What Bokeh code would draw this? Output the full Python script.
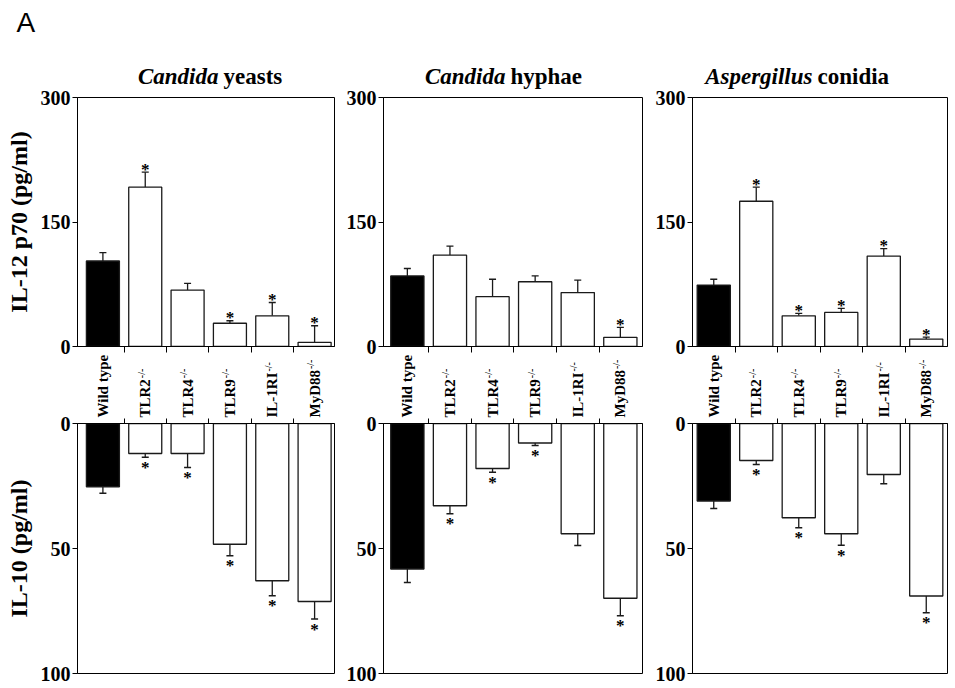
import math
from bokeh.plotting import figure
from bokeh.layouts import row, column
from bokeh.models import (Range1d, FixedTicker, ColumnDataSource, Whisker, TeeHead,
                          CustomLabelingPolicy)
from bokeh.core.properties import value
from bokeh.embed import file_html
from bokeh.resources import INLINE

# ---------------- data ----------------
categories = ["Wild type", "TLR2", "TLR4", "TLR9", "IL-1RI", "MyD88"]
knockout_marks = ["", "-/-", "-/-", "-/-", "-/-", "-/-"]

titles_italic = ["Candida", "Candida", "Aspergillus"]
titles_plain = ["yeasts", "hyphae", "conidia"]

il12_ticks = [0, 150, 300]
il10_ticks = [0, 50, 100]

il12_yeasts = [103, 192, 68, 28, 37, 5]
il12_yeasts_err = [10, 18, 8, 3, 16, 20]
il12_yeasts_sig = [0, 1, 0, 1, 1, 1]
il12_hyphae = [85, 110, 60, 78, 65, 11]
il12_hyphae_err = [9, 11, 21, 7, 15, 12]
il12_hyphae_sig = [0, 0, 0, 0, 0, 1]
il12_conidia = [74, 175, 37, 41, 109, 9]
il12_conidia_err = [7, 17, 3, 5, 9, 2.4]
il12_conidia_sig = [0, 1, 1, 1, 1, 1]

il10_yeasts = [25.3, 12, 12, 48.3, 62.9, 71.2]
il10_yeasts_err = [2.6, 1.5, 5.6, 4.6, 6, 7]
il10_yeasts_sig = [0, 1, 1, 1, 1, 1]
il10_hyphae = [58.2, 32.9, 18, 7.8, 44.1, 69.9]
il10_hyphae_err = [5.4, 3.2, 1.5, 1, 4.7, 7]
il10_hyphae_sig = [0, 1, 1, 1, 0, 1]
il10_conidia = [31, 14.8, 37.7, 44.1, 20.4, 69]
il10_conidia_err = [3, 1.6, 4, 4.6, 3.7, 6.7]
il10_conidia_sig = [0, 1, 1, 1, 0, 1]

top_series = [(il12_yeasts, il12_yeasts_err, il12_yeasts_sig),
              (il12_hyphae, il12_hyphae_err, il12_hyphae_sig),
              (il12_conidia, il12_conidia_err, il12_conidia_sig)]
bot_series = [(il10_yeasts, il10_yeasts_err, il10_yeasts_sig),
              (il10_hyphae, il10_hyphae_err, il10_hyphae_sig),
              (il10_conidia, il10_conidia_err, il10_conidia_sig)]

# ---------------- layout / style ----------------
SERIF = "Liberation Serif"
SANS = "Liberation Sans"
TOTAL_W = 955
TITLE_H = 90
TOP_MT, TOP_BT, TOP_FRAME, TOP_BB = -4, 11, 249, 12
STRIP_MT, STRIP_H, STRIP_MB = -6, 68, -8
BOT_BT, BOT_FRAME, BOT_BB = 11, 250, 15
# (border_left, frame_width, border_right, x_start, x_end, title split x)
cols = [(77, 257, 6, -0.60, 5.47, 218),
        (43, 259, 8, -0.56, 5.52, 505),
        (42, 255, 8, -0.50, 5.50, 812)]
BAR_W = 0.78
WT_COLOR = "black"
KO_COLOR = "white"
LINE = "#1a1a1a"

# Times/Liberation Serif Bold advance widths (em) for label layout
W_TB = {'T': .667, 'L': .667, 'R': .722, 'I': .389, 'M': .944, 'D': .722, 'y': .5,
        '1': .5, '2': .5, '4': .5, '8': .5, '9': .5, '-': .333, 'W': 1.0, 'i': .278,
        'l': .278, 'd': .556, ' ': .25, 't': .333, 'p': .556, 'e': .444}
CAT_FONT = 15


def text_len(s, size):
    return sum(W_TB.get(c, 0.5) for c in s) * size


def transparent(p):
    p.border_fill_alpha = 0
    p.background_fill_alpha = 0


def style_y(p, ticks, label=None):
    ax = p.yaxis[0]
    ax.ticker = FixedTicker(ticks=ticks)
    ax.major_tick_out = 5
    ax.major_tick_in = 0
    ax.minor_tick_out = 0
    ax.minor_tick_in = 0
    ax.axis_line_color = "black"
    ax.major_tick_line_color = "black"
    ax.major_label_text_font = SERIF
    ax.major_label_text_font_style = "bold"
    ax.major_label_text_font_size = "20px"
    ax.major_label_text_color = "black"
    ax.major_label_standoff = 2
    if label:
        ax.axis_label = label
        ax.axis_label_text_font = SERIF
        ax.axis_label_text_font_style = "bold"
        ax.axis_label_text_font_size = "24px"
        ax.axis_label_text_color = "black"
        ax.axis_label_standoff = 6


def style_x(p, tick_out):
    ax = p.xaxis[0]
    ax.ticker = FixedTicker(ticks=[i + 0.5 for i in range(len(categories) - 1)])
    ax.major_tick_out = tick_out
    ax.major_tick_in = 0
    ax.minor_tick_out = 0
    ax.minor_tick_in = 0
    ax.axis_line_color = "black"
    ax.major_tick_line_color = "black"
    ax.major_label_text_font_size = "0px"
    ax.major_label_standoff = 0
    ax.major_label_policy = CustomLabelingPolicy(
        code="return new indices.constructor(indices.size)")


def bare(p):
    p.axis.visible = False
    p.grid.visible = False
    p.outline_line_color = None
    transparent(p)


def draw_bars(p, vals, errs, sig, star_dy):
    xs = list(range(len(categories)))
    colors = [WT_COLOR if i == 0 else KO_COLOR for i in xs]
    src = ColumnDataSource(dict(x=xs, top=vals, lo=vals,
                                hi=[v + e for v, e in zip(vals, errs)], color=colors))
    p.vbar(x="x", width=BAR_W, top="top", bottom=0, source=src,
           fill_color="color", line_color=LINE, line_width=1.3)
    w = Whisker(base="x", lower="lo", upper="hi", source=src, dimension="height",
                line_color=LINE, line_width=1.3, lower_head=None,
                upper_head=TeeHead(size=7, line_color=LINE, line_width=1.3))
    p.add_layout(w)
    sx = [x for x, s in zip(xs, sig) if s]
    sy = [v + e + star_dy for v, e, s in zip(vals, errs, sig) if s]
    p.text(x=sx, y=sy, text=["*"] * len(sx), text_font=value(SERIF),
           text_font_style="bold", text_font_size="17px", text_color="black",
           text_align="center", text_baseline="middle")


# ---------------- title strip ----------------
tf = figure(width=TOTAL_W, height=TITLE_H, x_range=Range1d(0, TOTAL_W),
            y_range=Range1d(0, TITLE_H), toolbar_location=None, output_backend="svg",
            min_border=0)
bare(tf)
tf.text(x=[16], y=[TITLE_H - 22], text=["A"], text_font=value(SANS), text_font_size="28px",
        text_color="black", text_align="left", text_baseline="middle")
tf.text(x=[c[5] for c in cols], y=[TITLE_H - 76] * 3, text=titles_italic,
        text_font=value(SERIF), text_font_style="bold italic", text_font_size="23px",
        text_color="black", text_align="right", text_baseline="middle")
tf.text(x=[c[5] + 5 for c in cols], y=[TITLE_H - 76] * 3, text=titles_plain,
        text_font=value(SERIF), text_font_style="bold", text_font_size="23px",
        text_color="black", text_align="left", text_baseline="middle")

# ---------------- panels ----------------
columns = []
for k, (bl, fw, br, xs0, xs1, _) in enumerate(cols):
    width = bl + fw + br
    xr = Range1d(xs0, xs1)
    # top chart: IL-12 p70
    pt = figure(width=width, height=TOP_BT + TOP_FRAME + TOP_BB, x_range=xr,
                y_range=Range1d(il12_ticks[0], il12_ticks[-1]),
                toolbar_location=None, output_backend="svg",
                min_border_left=bl, min_border_right=br,
                min_border_top=TOP_BT, min_border_bottom=TOP_BB,
                margin=(TOP_MT, 0, 0, 0))
    transparent(pt)
    pt.grid.visible = False
    pt.outline_line_color = "black"
    style_y(pt, il12_ticks, "IL-12 p70 (pg/ml)" if k == 0 else None)
    style_x(pt, 6)
    unit_top = (il12_ticks[-1] - il12_ticks[0]) / TOP_FRAME
    v, e, s = top_series[k]
    draw_bars(pt, v, e, s, 3 * unit_top)

    # label strip (overlaps the borders of the charts above and below)
    ps = figure(width=width, height=STRIP_H, x_range=xr, y_range=Range1d(0, STRIP_H),
                toolbar_location=None, output_backend="svg",
                min_border_left=bl, min_border_right=br, min_border_top=0,
                min_border_bottom=0, margin=(STRIP_MT, 0, STRIP_MB, 0))
    bare(ps)
    base = 3
    ps.text(x=list(range(len(categories))), y=[base] * len(categories), text=categories,
            angle=math.pi / 2, text_font=value(SERIF), text_font_style="bold",
            text_font_size=f"{CAT_FONT}px", text_color="black",
            text_align="left", text_baseline="middle")
    sup_x = [i for i, m in enumerate(knockout_marks) if m]
    sup_y = [base + text_len(categories[i], CAT_FONT) + 1 for i in sup_x]
    ps.text(x=sup_x, y=sup_y, text=[knockout_marks[i] for i in sup_x],
            angle=math.pi / 2, x_offset=-4, text_font=value(SERIF), text_font_style="bold",
            text_font_size="10px", text_color="black",
            text_align="left", text_baseline="middle")

    # bottom chart: IL-10 (inverted)
    pb = figure(width=width, height=BOT_BT + BOT_FRAME + BOT_BB, x_range=xr,
                y_range=Range1d(il10_ticks[-1], il10_ticks[0]),
                x_axis_location="above",
                toolbar_location=None, output_backend="svg",
                min_border_left=bl, min_border_right=br,
                min_border_top=BOT_BT, min_border_bottom=BOT_BB)
    transparent(pb)
    pb.grid.visible = False
    pb.outline_line_color = "black"
    style_y(pb, il10_ticks, "IL-10 (pg/ml)" if k == 0 else None)
    style_x(pb, 5)
    unit_bot = (il10_ticks[-1] - il10_ticks[0]) / BOT_FRAME
    v, e, s = bot_series[k]
    draw_bars(pb, v, e, s, 10 * unit_bot)

    columns.append(column(pt, ps, pb, spacing=0))

layout = column(tf, row(*columns, spacing=0), spacing=0)
open("out.html", "w").write(file_html(layout, INLINE))
